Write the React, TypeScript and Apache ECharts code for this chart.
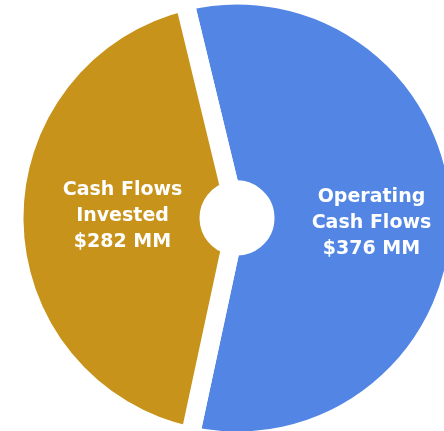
import React, { useEffect, useRef } from "react";
import * as echarts from "echarts";

const categories = ["Operating\nCash Flows", "Cash Flows\nInvested"];
const values = [376, 282];
const colors = ["#5386E4", "#C8931A"];

export default function App() {
  const ref = useRef<HTMLDivElement>(null);
  useEffect(() => {
    if (!ref.current) return;
    const chart = echarts.init(ref.current, undefined, { renderer: "svg" });
    const labelOffsets = [
      [6, 5],
      [14, -6],
    ];
    chart.setOption({
      animation: false,
      series: [
        {
          type: "pie",
          center: [237, 218],
          radius: [28, 223],
          startAngle: 103.6,
          clockwise: true,
          avoidLabelOverlap: false,
          itemStyle: { borderColor: "#ffffff", borderWidth: 19 },
          label: {
            show: true,
            position: "inside",
            color: "#ffffff",
            fontFamily: "DejaVu Sans",
            fontWeight: "bold",
            fontSize: 19,
            lineHeight: 26,
            formatter: (p: any) => `${p.name}\n$${p.value} MM`,
          },
          labelLine: { show: false },
          emphasis: { disabled: true },
          data: categories.map((c, i) => ({
            name: c,
            value: values[i],
            itemStyle: { color: colors[i] },
            label: { offset: labelOffsets[i] },
          })),
        },
      ],
    });
    return () => chart.dispose();
  }, []);
  return (
    <div
      ref={ref}
      style={{ position: "fixed", left: 0, top: 0, width: 444, height: 431 }}
    />
  );
}
